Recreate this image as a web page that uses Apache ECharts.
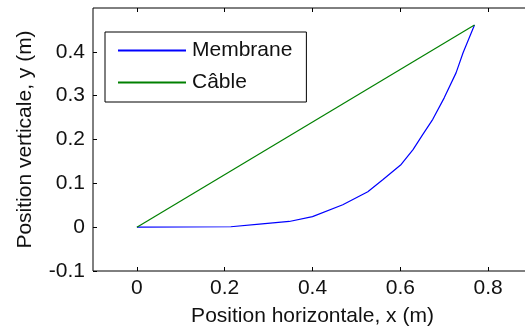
<!DOCTYPE html>
<html><head><meta charset="utf-8">
<script src="https://cdn.jsdelivr.net/npm/echarts@6/dist/echarts.min.js"></script>
<style>html,body{margin:0;padding:0;background:#fff}#c{width:525px;height:333px}</style>
</head><body><div id="c"></div>
<script>
const membraneX = [0, 0.214, 0.279, 0.347, 0.400, 0.469, 0.526, 0.560, 0.602, 0.629, 0.651, 0.674, 0.700, 0.727, 0.743, 0.769];
const membraneY = [0, 0.001, 0.007, 0.013, 0.024, 0.051, 0.081, 0.108, 0.143, 0.177, 0.211, 0.246, 0.295, 0.352, 0.398, 0.461];
const cableX = [0, 0.769];
const cableY = [0, 0.461];
const xTicks = [0, 0.2, 0.4, 0.6, 0.8];
const yTicks = [-0.1, 0, 0.1, 0.2, 0.3, 0.4];

const font = 'Liberation Sans, Arial, sans-serif';
const chart = echarts.init(document.getElementById('c'));
const pair = (xs, ys) => xs.map((x, i) => [x, ys[i]]);
const tick = vals => ({inside: true, length: 4, customValues: vals, lineStyle: {color: '#000', width: 1}});
chart.setOption({
  animation: false,
  grid: {left: 93, top: 8, width: 439, height: 263, show: true, borderColor: '#000', borderWidth: 1,
         backgroundColor: '#fff', containLabel: false, outerBoundsMode: 'none'},
  legend: {
    left: 105, top: 32, orient: 'vertical',
    data: [{name: 'Membrane', icon: 'rect'}, {name: 'Câble', icon: 'rect'}],
    itemWidth: 68, itemHeight: 2, itemGap: 11,
    padding: [8, 14, 9, 13],
    borderColor: '#000', borderWidth: 1, backgroundColor: '#fff',
    textStyle: {fontFamily: font, fontSize: 21, color: '#111', lineHeight: 21, padding: [0,0,0,1]}
  },
  xAxis: [{
    type: 'value', min: -0.1, max: 0.9, interval: 0.1,
    name: 'Position horizontale, x (m)', nameLocation: 'middle', nameGap: 35,
    nameTextStyle: {fontFamily: font, fontSize: 21, color: '#111'},
    axisLine: {show: false, onZero: false},
    axisTick: tick(xTicks),
    axisLabel: {fontFamily: font, fontSize: 21, color: '#111', margin: 7, customValues: xTicks,
      formatter: v => String(Math.round(v*10)/10)},
    splitLine: {show: false}
  }, {
    type: 'value', position: 'top', min: -0.1, max: 0.9, interval: 0.1,
    axisLine: {show: false, onZero: false},
    axisTick: tick(xTicks),
    axisLabel: {show: false}, splitLine: {show: false}
  }],
  yAxis: {
    type: 'value', min: -0.1, max: 0.5, interval: 0.1,
    name: 'Position verticale, y (m)', nameLocation: 'middle', nameGap: 57,
    nameTextStyle: {fontFamily: font, fontSize: 21, color: '#111'},
    axisLine: {show: false, onZero: false},
    axisTick: tick(yTicks),
    axisLabel: {fontFamily: font, fontSize: 21, color: '#111', margin: 8, customValues: yTicks,
      formatter: v => String(Math.round(v*10)/10)},
    splitLine: {show: false}
  },
  series: [
    {name: 'Membrane', type: 'line', data: pair(membraneX, membraneY), symbol: 'none',
     lineStyle: {color: '#0000ff', width: 1.2}, itemStyle: {color: '#0000ff'}},
    {name: 'Câble', type: 'line', data: pair(cableX, cableY), symbol: 'none',
     lineStyle: {color: '#008000', width: 1.2}, itemStyle: {color: '#008000'}}
  ]
});
</script></body></html>
